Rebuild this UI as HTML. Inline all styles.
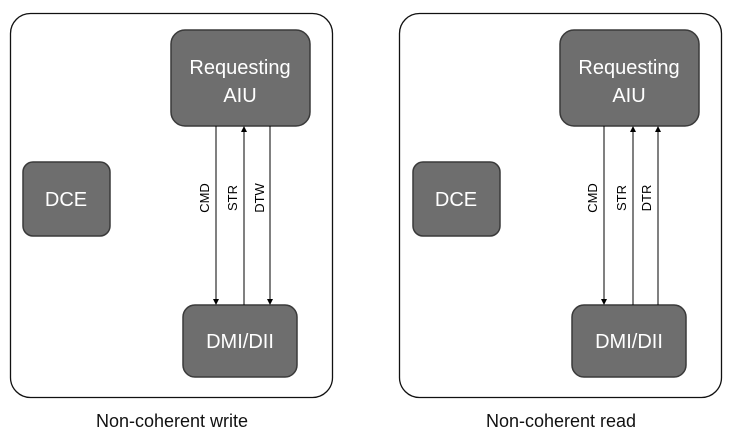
<!DOCTYPE html>
<html><head><style>
body{margin:0;background:#fff;width:730px;height:443px;overflow:hidden;font-family:"Liberation Sans",sans-serif}
</style></head><body>
<svg width="730" height="443" xmlns="http://www.w3.org/2000/svg">
<defs><marker id="a" markerWidth="6" markerHeight="8" refX="5" refY="4" orient="auto" markerUnits="userSpaceOnUse"><path d="M0,1 L6,4 L0,7 z" fill="#000"/></marker></defs>
<g font-family="Liberation Sans, sans-serif">
<rect x="10.5" y="13.5" width="322" height="384" rx="20" fill="#fff" stroke="#111" stroke-width="1.3"/>
<rect x="399.5" y="13.5" width="322" height="384" rx="20" fill="#fff" stroke="#111" stroke-width="1.3"/>
<g fill="#6e6e6e" stroke="#3a3a3a" stroke-width="1.5">
<rect x="171" y="30" width="139" height="96" rx="14"/>
<rect x="183" y="305" width="114" height="72" rx="12"/>
<rect x="23" y="162" width="87" height="74" rx="10"/>
<rect x="560" y="30" width="139" height="96" rx="14"/>
<rect x="572" y="305" width="114" height="72" rx="12"/>
<rect x="413" y="162" width="87" height="74" rx="10"/>
</g>
<g fill="#fff" font-size="20" text-anchor="middle">
<text x="240" y="74">Requesting</text><text x="240" y="102">AIU</text>
<text x="240" y="348">DMI/DII</text><text x="66" y="206">DCE</text>
<text x="629" y="74">Requesting</text><text x="629" y="102">AIU</text>
<text x="629" y="348">DMI/DII</text><text x="456" y="206">DCE</text>
</g>
<g stroke="#000" stroke-width="1">
<line x1="216" y1="126" x2="216" y2="304" marker-end="url(#a)"/>
<line x1="244" y1="305" x2="244" y2="127" marker-end="url(#a)"/>
<line x1="270" y1="126" x2="270" y2="304" marker-end="url(#a)"/>
<line x1="604" y1="126" x2="604" y2="304" marker-end="url(#a)"/>
<line x1="633" y1="305" x2="633" y2="127" marker-end="url(#a)"/>
<line x1="658" y1="305" x2="658" y2="127" marker-end="url(#a)"/>
</g>
<g font-size="13" text-anchor="middle" fill="#000">
<text transform="translate(209,198) rotate(-90)">CMD</text>
<text transform="translate(237,198) rotate(-90)">STR</text>
<text transform="translate(264,198) rotate(-90)">DTW</text>
<text transform="translate(597,198) rotate(-90)">CMD</text>
<text transform="translate(626,198) rotate(-90)">STR</text>
<text transform="translate(651,198) rotate(-90)">DTR</text>
</g>
<g font-size="18" text-anchor="middle" fill="#111">
<text x="172" y="427">Non-coherent write</text>
<text x="561" y="427">Non-coherent read</text>
</g>
</g>
</svg>
</body></html>
